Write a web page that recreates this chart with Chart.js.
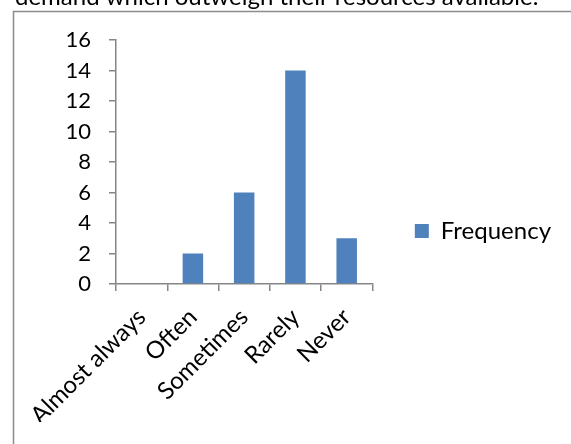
<!DOCTYPE html>
<html>
<head>
<meta charset="utf-8">
<script src="https://cdn.jsdelivr.net/npm/chart.js@4/dist/chart.umd.min.js"></script>
<style>
  html, body { margin: 0; padding: 0; background: #fff; }
  #wrap { position: relative; width: 571px; height: 444px; overflow: hidden; }
  canvas { display: block; }
</style>
</head>
<body>
<div id="wrap"><canvas id="c" width="571" height="444"></canvas></div>
<script>
// Survey responses: how often demands outweigh available resources
const categories = ['Almost always', 'Often', 'Sometimes', 'Rarely', 'Never'];
const frequency = [0, 2, 6, 14, 3];
const seriesName = 'Frequency';
const headingText = 'demand which outweigh their resources available.';

const FONT = 'Lato, "Open Sans", sans-serif';
const AXIS_GREY = '#868686';

// Frame and the running text line above the chart
const framePlugin = {
  id: 'frame',
  beforeDraw(chart) {
    const ctx = chart.ctx;
    ctx.save();
    ctx.fillStyle = '#ffffff';
    ctx.fillRect(0, 0, chart.width, chart.height);
    ctx.strokeStyle = '#8c8c8c';
    ctx.lineWidth = 1.5;
    ctx.beginPath();
    ctx.moveTo(13.5, chart.height + 2);
    ctx.lineTo(13.5, 11.5);
    ctx.lineTo(chart.width + 2, 11.5);
    ctx.stroke();
    ctx.fillStyle = '#000';
    ctx.font = '24px ' + FONT;
    ctx.textBaseline = 'alphabetic';
    ctx.fillText(headingText, 15, 5);
    ctx.restore();
  }
};

new Chart(document.getElementById('c'), {
  type: 'bar',
  data: {
    labels: categories,
    datasets: [{
      label: seriesName,
      data: frequency,
      backgroundColor: '#4F81BD',
      borderWidth: 0,
      categoryPercentage: 1,
      barPercentage: 0.4
    }]
  },
  options: {
    responsive: false,
    animation: false,
    devicePixelRatio: 1,
    layout: { padding: { top: 40, right: 10, bottom: 22, left: 0 } },
    plugins: {
      title: { display: false },
      tooltip: { enabled: false },
      legend: {
        position: 'right',
        maxWidth: 260,
        labels: {
          boxWidth: 14,
          boxHeight: 14,
          padding: 42.5,
          color: '#000',
          font: { family: FONT, size: 24 }
        }
      }
    },
    scales: {
      x: {
        offset: true,
        grid: { offset: true, drawOnChartArea: false, tickLength: 7, color: AXIS_GREY, lineWidth: 1.5 },
        border: { color: AXIS_GREY, width: 1.5 },
        ticks: {
          color: '#000',
          font: { family: FONT, size: 24 },
          maxRotation: 45,
          minRotation: 45,
          padding: 12,
          autoSkip: false
        },
        afterFit(scale) {
          scale.height = 444 - 22 - 284;
          scale.paddingLeft = 0;
          scale.paddingRight = 0;
        }
      },
      y: {
        min: 0,
        max: 16,
        grid: { drawOnChartArea: false, tickLength: 7, color: AXIS_GREY, lineWidth: 1.5 },
        border: { color: AXIS_GREY, width: 1.5 },
        ticks: {
          stepSize: 2,
          autoSkip: false,
          color: '#000',
          font: { family: FONT, size: 22 },
          padding: 18
        },
        afterFit(scale) {
          scale.width = 116;
          scale.paddingTop = 0;
          scale.paddingBottom = 0;
        }
      }
    }
  },
  plugins: [framePlugin]
});
</script>
</body>
</html>
